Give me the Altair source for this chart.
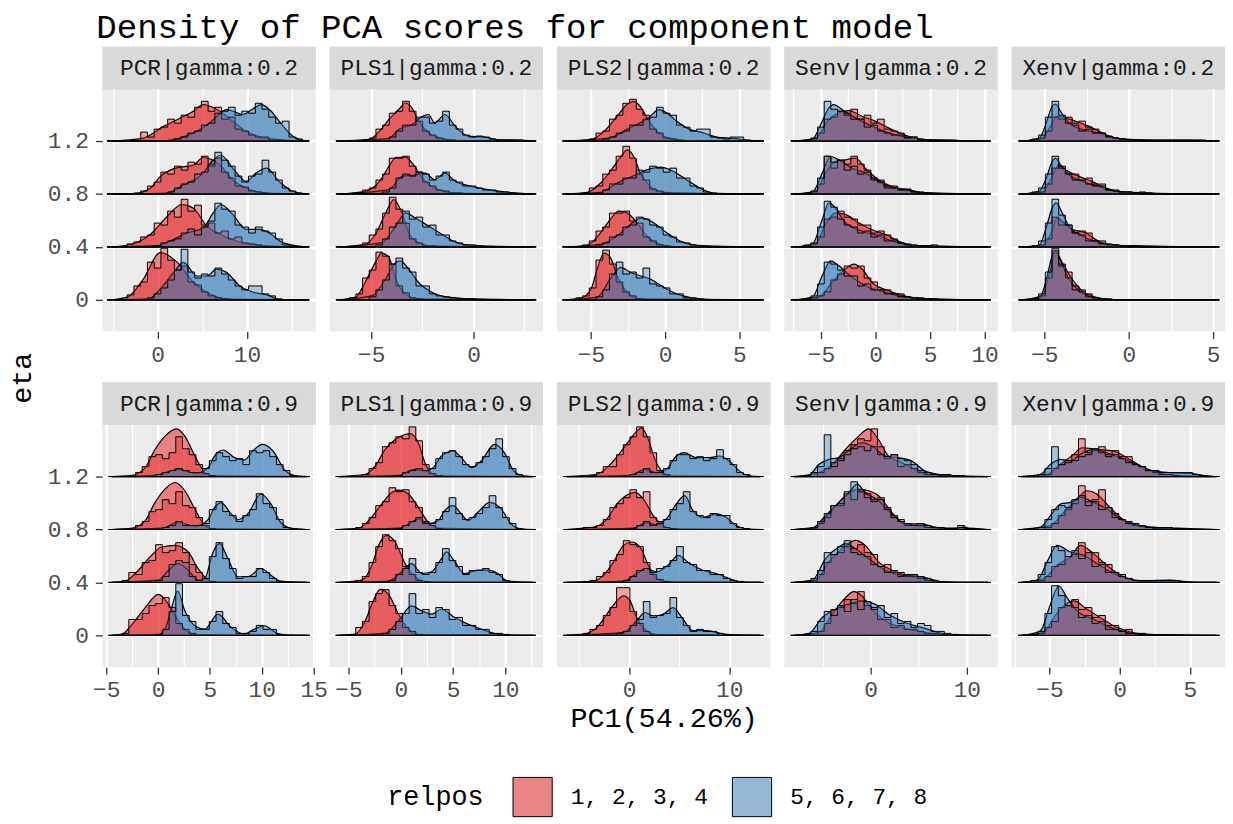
import json
import altair as alt
import pandas as pd

FONT = "Liberation Mono"
RED, BLUE = "#E41A1C", "#377EB8"
RED_KEY, BLUE_KEY = "#EB8687", "#94B8D5"
GROUPS = ["1, 2, 3, 4", "5, 6, 7, 8"]
ETAS = [0, 0.4, 0.8, 1.2]
METHODS = ["PCR", "PLS1", "PLS2", "Senv", "Xenv"]
GAMMAS = ["0.2", "0.9"]
HEIGHT_UNIT = 0.4 / 53.3  # density-height unit expressed in eta units
N_BINS = 30

CURVE_RANGE = {
    ("PCR", "0.2"): (-5.3, 16.6), ("PLS1", "0.2"): (-6.57, 2.9), ("PLS2", "0.2"): (-6.7, 6.43),
    ("Senv", "0.2"): (-7.45, 10.27), ("Xenv", "0.2"): (-6.33, 5.17),
    ("PCR", "0.9"): (-4.44, 14.32), ("PLS1", "0.9"): (-5.9, 12.6), ("PLS2", "0.9"): (-6.24, 13.07),
    ("Senv", "0.9"): (-7.94, 12.16), ("Xenv", "0.9"): (-7.0, 6.87),
}
X_DOMAIN = {
    ("PCR", "0.2"): [-6.2, 17.7], ("PLS1", "0.2"): [-7.04, 3.4], ("PLS2", "0.2"): [-7.3, 7.1],
    ("Senv", "0.2"): [-8.36, 11.2], ("Xenv", "0.2"): [-6.94, 5.7],
    ("PCR", "0.9"): [-5.38, 15.2], ("PLS1", "0.9"): [-6.8, 13.6], ("PLS2", "0.9"): [-7.2, 14.1],
    ("Senv", "0.9"): [-8.97, 13.2], ("Xenv", "0.9"): [-7.7, 7.5],
}
X_MAJOR = {
    ("PCR", "0.2"): [0, 10], ("PLS1", "0.2"): [-5, 0], ("PLS2", "0.2"): [-5, 0, 5],
    ("Senv", "0.2"): [-5, 0, 5, 10], ("Xenv", "0.2"): [-5, 0, 5],
    ("PCR", "0.9"): [-5, 0, 5, 10, 15], ("PLS1", "0.9"): [-5, 0, 5, 10], ("PLS2", "0.9"): [0, 10],
    ("Senv", "0.9"): [0, 10], ("Xenv", "0.9"): [-5, 0, 5],
}
X_MINOR = {
    ("PCR", "0.2"): [-5, 5, 15], ("PLS1", "0.2"): [-2.5, 2.5], ("PLS2", "0.2"): [-2.5, 2.5],
    ("Senv", "0.2"): [-7.5, -2.5, 2.5, 7.5], ("Xenv", "0.2"): [-2.5, 2.5],
    ("PCR", "0.9"): [-2.5, 2.5, 7.5, 12.5], ("PLS1", "0.9"): [-2.5, 2.5, 7.5, 12.5],
    ("PLS2", "0.9"): [-5, 5], ("Senv", "0.9"): [-5, 5], ("Xenv", "0.9"): [-7.5, -2.5, 2.5],
}

# ---- density ridges: per eta (0, 0.4, 0.8, 1.2) a list of [PC1, height] ----
PCR_02_RED = [
    [[-3.4, 2.7], [-1.6, 21], [0.3, 47.7], [2.2, 37.7], [4.0, 17.7], [5.8, 6], [7.7, 1]],
    [[-2.9, 2.7], [-0.8, 12.7], [1.1, 31], [2.7, 42.7], [4.0, 39], [5.5, 21], [7.0, 12.7], [8.8, 6], [11.4, 1.7]],
    [[-2.5, 0.5], [-0.8, 6], [0.3, 17.7], [1.4, 24], [2.5, 27], [4.0, 29], [5.1, 36.7], [7.0, 29], [8.4, 14], [9.9, 6], [12.1, 1]],
    [[-1.6, 3], [0.7, 15], [2.5, 23], [4.0, 30], [5.1, 36.7], [6.6, 32], [8.4, 20], [9.9, 10], [12.1, 3]],
]
PCR_02_BLUE = [
    [[-1.0, 1], [0.3, 11], [1.8, 27.7], [2.9, 37.7], [4.4, 24], [5.5, 24], [6.6, 31], [7.7, 27.7], [9.2, 14], [10.7, 7.7], [12.5, 4.3], [13.6, 0.3]],
    [[0.0, 1.5], [1.4, 6], [3.3, 14], [5.1, 19], [6.2, 34], [7.1, 42.7], [8.4, 32.7], [9.9, 17.7], [11.4, 17.7], [12.5, 14], [14.0, 4.3]],
    [[1.0, 1], [2.9, 9], [5.1, 21], [6.2, 34], [7.1, 39], [8.4, 26], [9.9, 12.7], [11.0, 21], [12.2, 26], [13.6, 12.7], [15.1, 2.7]],
    [[1.0, 0.5], [2.3, 2.7], [4.0, 8], [5.8, 18], [6.9, 27], [7.7, 31.7], [8.5, 30], [9.5, 26.7], [10.6, 32], [11.6, 36.7], [12.6, 31], [13.6, 20], [15.1, 5]],
]
PLS1_02_RED = [
    [[-5.76, 2.7], [-5.3, 17.7], [-4.8, 37.7], [-4.5, 47], [-4.14, 42.7], [-3.8, 21], [-3.33, 6], [-2.7, 1]],
    [[-5.3, 2.7], [-4.8, 12.7], [-4.3, 34], [-3.9, 47.7], [-3.5, 34], [-3.17, 14.3], [-2.7, 4.3], [-2.0, 0.7]],
    [[-5.3, 2.7], [-4.6, 12.7], [-4.14, 27.7], [-3.8, 36.7], [-3.33, 37], [-3.0, 31], [-2.5, 16], [-1.9, 6], [-0.9, 1]],
    [[-5.1, 1.7], [-4.6, 10], [-4.14, 21.7], [-3.66, 31.7], [-3.33, 38.3], [-3.0, 33], [-2.69, 20], [-2.2, 8.3], [-1.55, 2.7], [-0.6, 0.3]],
]
PLS1_02_BLUE = [
    [[-4.95, 4.3], [-4.3, 21], [-3.8, 37.7], [-3.58, 39.3], [-3.17, 31], [-2.7, 17.7], [-2.04, 7.7], [-1.23, 2.7], [-0.1, 1]],
    [[-4.5, 4.3], [-3.8, 21], [-3.33, 34.3], [-2.85, 29], [-2.2, 21], [-1.55, 12.7], [-0.9, 5], [-0.1, 1.7]],
    [[-4.14, 4.3], [-3.5, 17.7], [-2.85, 19.3], [-2.36, 21], [-1.9, 14.3], [-1.4, 21], [-0.9, 12.7], [-0.1, 7.7], [0.7, 4.3], [1.7, 1.7]],
    [[-4.14, 2.7], [-3.66, 11.7], [-3.0, 16.7], [-2.5, 25], [-2.2, 26.7], [-1.9, 18.3], [-1.4, 26.7], [-0.9, 15], [-0.26, 5], [0.55, 4], [1.2, 1.3], [2.2, 1]],
]
PLS2_02_RED = [
    [[-5.7, 1.7], [-5.0, 11], [-4.58, 31], [-4.13, 47], [-3.7, 42.7], [-3.24, 24.3], [-2.57, 7.7], [-1.68, 1]],
    [[-5.25, 1.7], [-4.35, 14.3], [-3.7, 27.7], [-3.13, 36], [-2.57, 34.3], [-1.9, 24.3], [-1.23, 11], [-0.33, 2.7], [0.78, 0.3]],
    [[-5.25, 1.7], [-4.35, 11], [-3.46, 27.7], [-2.9, 39.3], [-2.57, 44.3], [-2.12, 37.7], [-1.68, 21], [-1.0, 7.7], [-0.11, 1.7]],
    [[-5.0, 1.7], [-4.1, 10], [-3.24, 25], [-2.57, 36.7], [-2.12, 40], [-1.68, 35], [-1.23, 23.3], [-0.56, 10], [0.33, 2.7], [1.67, 0.3]],
]
PLS2_02_BLUE = [
    [[-4.58, 2.7], [-3.7, 21], [-3.0, 32.7], [-2.35, 27.7], [-1.68, 24.3], [-1.0, 21], [-0.11, 12.7], [0.78, 6], [1.9, 1.7], [3.0, 0.3]],
    [[-4.35, 2.7], [-3.24, 11], [-2.35, 22.7], [-1.57, 29.3], [-0.78, 24.3], [0.11, 14.3], [1.0, 6], [2.12, 1.7]],
    [[-4.35, 1.7], [-3.24, 11], [-2.12, 18.3], [-1.23, 24.3], [-0.33, 27], [0.56, 22.7], [1.45, 14.3], [2.34, 6], [3.24, 1]],
    [[-3.7, 3.3], [-2.57, 11.7], [-1.68, 18.3], [-1.0, 25], [-0.45, 31.7], [0.11, 28.3], [0.78, 20], [1.67, 11.7], [2.57, 8.3], [3.46, 4], [4.58, 2.7], [5.69, 0.7]],
]
SENV_02_RED = [
    [[-5.18, 2.7], [-3.97, 17.7], [-2.76, 31], [-2.0, 36], [-1.24, 31], [-0.33, 17.7], [1.18, 9.3], [2.7, 3.7], [4.8, 1]],
    [[-5.5, 2.7], [-4.58, 22.7], [-3.67, 34.3], [-2.76, 32.7], [-1.55, 24.3], [-0.03, 16], [0.88, 12.7], [2.1, 6], [3.3, 1.7]],
    [[-5.5, 2.7], [-4.58, 21], [-3.67, 32.7], [-2.76, 34.3], [-1.85, 36], [-0.94, 26], [0.27, 14.3], [1.48, 7.7], [3.3, 3.7], [4.5, 1]],
    [[-5.5, 2.7], [-4.27, 21.7], [-3.36, 28.3], [-2.45, 30.7], [-1.24, 25], [-0.03, 20], [1.18, 13.3], [2.7, 6], [4.2, 1.7], [6.3, 1], [8.1, 0.3]],
]
SENV_02_BLUE = [
    [[-5.79, 2.7], [-4.88, 24.3], [-4.12, 39.3], [-3.36, 34.3], [-2.15, 22.7], [-0.64, 12.7], [0.88, 7.7], [2.7, 2.7], [4.8, 1]],
    [[-5.79, 2.7], [-4.88, 27.7], [-4.27, 44.3], [-3.67, 39.3], [-2.76, 24.3], [-1.24, 16], [0.27, 11], [1.79, 5], [3.3, 1.7], [5.1, 1]],
    [[-5.79, 1.7], [-4.88, 21], [-4.12, 37.7], [-3.36, 34.3], [-2.15, 26], [-0.94, 21], [0.27, 12.7], [1.48, 6], [2.7, 4.3], [3.9, 1.7]],
    [[-5.79, 1.7], [-4.88, 20], [-4.27, 33.3], [-3.82, 36.7], [-3.06, 31.7], [-1.85, 23.3], [-0.33, 15], [1.18, 8.3], [2.7, 4], [3.6, 2.7], [4.8, 0.7]],
]
XENV_02_RED = [
    [[-5.12, 4.3], [-4.63, 31], [-4.33, 47.7], [-3.94, 37.7], [-3.36, 21], [-2.77, 9.3], [-1.98, 2.7], [-1.0, 0.3]],
    [[-5.12, 1], [-4.63, 12.7], [-4.24, 29.3], [-3.85, 24.3], [-3.36, 17.7], [-2.57, 14.3], [-1.79, 6], [-0.8, 1.7]],
    [[-5.12, 1.7], [-4.63, 14.3], [-4.14, 29.3], [-3.75, 24.3], [-2.96, 17.7], [-2.18, 12.7], [-1.59, 7.7], [-0.61, 2.7], [1.35, 1]],
    [[-5.12, 2.7], [-4.63, 15], [-4.24, 25], [-3.75, 23.3], [-3.16, 20], [-2.37, 15], [-1.59, 8.3], [-0.8, 2.7], [1.35, 1], [3.3, 1], [4.3, 0.7]],
]
XENV_02_BLUE = [
    [[-5.3, 1.7], [-4.92, 17.7], [-4.53, 44.3], [-4.33, 49.3], [-4.04, 39.3], [-3.55, 21], [-2.96, 9.3], [-2.18, 2.7], [-1.2, 0.3]],
    [[-5.3, 1.7], [-4.92, 17.7], [-4.53, 39.3], [-4.3, 44.3], [-3.94, 34.3], [-3.55, 21], [-2.77, 11], [-1.79, 4.3], [-0.61, 1.7], [0.37, 1]],
    [[-5.3, 2.7], [-4.92, 14.3], [-4.53, 32.7], [-4.33, 36], [-4.04, 29.3], [-3.55, 19.3], [-2.77, 12.7], [-1.79, 7.7], [-0.8, 2.7], [0.37, 1]],
    [[-5.3, 2.7], [-4.92, 16.7], [-4.53, 35], [-4.33, 37.3], [-4.04, 30], [-3.55, 18.3], [-2.77, 11.7], [-1.79, 8.3], [-0.8, 3.3], [0.37, 0.7]],
]
PCR_09_RED = [
    [[-3.48, 1.3], [-2.5, 11.3], [-1.24, 28], [0.03, 41.3], [1.0, 31.3], [1.95, 14.7], [2.9, 3], [3.9, 0.3]],
    [[-3.16, 1.3], [-2.2, 9], [-0.93, 24], [0.35, 35.7], [1.63, 37.3], [2.9, 30.7], [3.86, 14], [4.82, 2.3], [5.45, 0.3]],
    [[-2.5, 1.3], [-1.24, 9], [-0.29, 27.3], [0.67, 40.7], [1.63, 47.3], [2.58, 39], [3.54, 20.7], [4.5, 4], [5.13, 0.7]],
    [[-2.5, 1.3], [-1.24, 9], [-0.29, 27.3], [0.67, 40.7], [1.79, 48], [2.58, 40.7], [3.54, 20.7], [4.5, 4], [5.13, 0.7]],
]
PCR_09_BLUE = [
    [[0.0, 0.5], [0.67, 6.3], [1.31, 28], [1.88, 44.7], [2.58, 24.7], [3.54, 9.7], [4.5, 6.3], [5.77, 21.3], [7.05, 8], [8.32, 1.3], [9.28, 6.3], [10.24, 9.7], [11.5, 2], [12.5, 0.3]],
    [[0.03, 2.3], [1.0, 12.3], [1.95, 19], [2.9, 12.3], [3.86, 2.3], [4.5, 4], [5.3, 30.7], [5.93, 39], [6.73, 24], [7.69, 5.7], [8.65, 5.7], [9.92, 14], [10.88, 7.3], [11.8, 1.3]],
    [[0.35, 1.3], [1.95, 7.3], [3.54, 3.3], [4.82, 10], [5.45, 22.3], [6.09, 26.7], [7.05, 15.7], [7.69, 10], [8.65, 15.7], [9.92, 35.7], [10.88, 25.7], [11.8, 7.3], [12.8, 1.3]],
    [[-0.29, 1.3], [1.95, 7.3], [3.54, 3.3], [4.82, 9], [5.45, 20.7], [6.25, 26.7], [7.37, 19], [8.32, 16.7], [9.12, 25.7], [10.08, 32.3], [11.2, 24], [12.15, 7.3], [13.1, 1.3]],
]
PLS1_09_RED = [
    [[-4.34, 1.3], [-3.39, 14.7], [-2.76, 31.3], [-1.97, 46.3], [-1.17, 41.3], [-0.22, 21.3], [0.73, 6.3], [1.68, 0.7]],
    [[-3.7, 2.3], [-2.76, 17.3], [-2.12, 37.3], [-1.33, 47.3], [-0.54, 40.7], [0.41, 19], [1.36, 5.7], [2.31, 0.7]],
    [[-4.0, 1.3], [-3.07, 9], [-1.81, 25.7], [-0.86, 37.3], [-0.22, 39.7], [0.73, 35.7], [1.68, 22.3], [2.62, 7.3], [3.58, 1.3]],
    [[-3.39, 2.3], [-2.44, 10.7], [-1.49, 27.3], [-0.54, 37.3], [0.41, 42.3], [0.88, 43.3], [1.68, 34], [2.31, 14], [2.94, 3.3], [3.58, 0.7]],
]
PLS1_09_BLUE = [
    [[-1.49, 2], [-0.22, 14.7], [1.04, 29.7], [2.0, 24.7], [2.94, 21.3], [3.89, 26.3], [5.16, 18], [6.42, 11.3], [7.69, 6.3], [9.27, 1.3], [10.5, 0.3]],
    [[-1.17, 1.3], [0.09, 10.7], [1.04, 19], [2.0, 9], [2.94, 10.7], [3.89, 24], [4.37, 30.7], [5.16, 20.7], [6.1, 9], [7.37, 12.3], [8.33, 12.3], [9.27, 9], [10.2, 1.3]],
    [[-0.22, 1.3], [1.04, 7.3], [1.68, 10.7], [2.62, 5.7], [3.58, 9], [4.2, 19], [5.0, 24], [5.79, 15.7], [6.42, 9], [7.37, 17.3], [8.48, 27.3], [9.59, 20.7], [10.54, 5.7], [11.49, 0.7]],
    [[-0.2, 1.3], [1.36, 7.3], [2.31, 5.7], [3.1, 9], [3.89, 20.7], [5.0, 25.7], [5.79, 19], [6.74, 9], [7.69, 15.7], [8.96, 32.3], [9.9, 24], [10.7, 7.3], [11.49, 1.3]],
]
PLS2_09_RED = [
    [[-4.52, 1.3], [-3.2, 8], [-2.21, 21.3], [-1.22, 34.7], [-0.56, 39.7], [0.1, 34.7], [0.76, 18], [1.75, 4.7], [2.74, 0.7]],
    [[-3.53, 1.3], [-2.54, 7.3], [-1.55, 20.7], [-0.56, 37.3], [0.27, 40.7], [1.09, 35.7], [1.92, 17.3], [2.74, 4], [3.73, 0.7]],
    [[-4.52, 1.3], [-3.2, 3.3], [-2.21, 10.7], [-1.22, 25.7], [-0.23, 34.7], [0.6, 37.3], [1.42, 30.7], [2.41, 14], [3.4, 4], [4.39, 0.7]],
    [[-3.2, 2.3], [-1.88, 12.3], [-0.89, 24], [0.1, 37.3], [0.76, 45.7], [1.26, 49], [1.92, 37.3], [2.58, 17.3], [3.24, 5.7], [4.06, 0.7]],
]
PLS2_09_BLUE = [
    [[-0.56, 3], [0.76, 14.7], [1.59, 23], [2.41, 19.7], [3.4, 21.3], [4.39, 28], [5.38, 16.3], [6.37, 4.7], [7.69, 4.7], [8.68, 3], [10.0, 0.7]],
    [[-0.56, 1.3], [0.76, 9], [1.75, 14], [2.74, 10.7], [4.06, 19], [4.88, 27.3], [6.04, 19], [7.36, 12.3], [8.68, 9], [10.0, 4], [11.0, 0.7]],
    [[0.43, 1.3], [1.75, 6.7], [2.74, 4.7], [3.73, 10.7], [4.72, 25.7], [5.55, 34], [6.37, 19], [7.36, 12.3], [8.68, 15.7], [9.67, 12.3], [10.66, 4], [11.65, 0.7]],
    [[0.1, 1.3], [1.59, 7.3], [2.74, 4], [3.73, 7.3], [4.72, 20.7], [5.55, 24], [6.7, 19], [8.02, 19], [9.01, 20.7], [10.0, 15.7], [11.0, 5.7], [11.98, 0.7]],
]
SENV_09_RED = [
    [[-5.36, 3], [-3.99, 21.3], [-2.61, 38], [-1.76, 44], [-0.89, 39.7], [0.13, 26.3], [1.51, 14.7], [3.23, 8], [4.95, 4], [7.0, 1.3]],
    [[-5.7, 2.3], [-4.33, 20.7], [-2.96, 34], [-1.58, 42.3], [-0.55, 37.3], [0.82, 20.7], [2.2, 12.3], [3.57, 7.3], [5.29, 4], [7.0, 0.7]],
    [[-5.7, 2.3], [-4.33, 15.7], [-2.96, 30.7], [-1.24, 40.7], [-0.2, 39], [0.82, 34], [2.2, 17.3], [3.57, 5.7], [5.29, 3.3], [7.0, 1.3], [9.75, 1.3]],
    [[-5.36, 4], [-3.99, 12.3], [-2.61, 27.3], [-1.24, 40.7], [-0.2, 48], [0.82, 37.3], [1.85, 20.7], [3.23, 14], [4.6, 7.3], [5.98, 2.3], [7.7, 1.3], [9.07, 0.7]],
]
SENV_09_BLUE = [
    [[-6.4, 2], [-5.02, 18], [-3.64, 26.3], [-2.27, 31.3], [-0.89, 34.7], [0.48, 31.3], [1.85, 21.3], [3.57, 13], [5.29, 8], [7.0, 3], [8.72, 0.3]],
    [[-6.05, 2.3], [-4.68, 24], [-3.3, 35.7], [-2.61, 39], [-1.58, 34], [-0.2, 24], [1.51, 12.3], [3.23, 7.3], [4.6, 6.7], [5.98, 4], [7.35, 0.7]],
    [[-6.05, 1.3], [-4.68, 14], [-3.3, 27.3], [-2.1, 39], [-1.41, 45.7], [-0.55, 37.3], [0.82, 29], [2.2, 15.7], [3.57, 5.7], [5.29, 5.7], [6.66, 2.3], [8.38, 0.7], [9.75, 2.3], [10.5, 0.3]],
    [[-6.4, 1.3], [-5.36, 12.3], [-4.33, 17.3], [-3.3, 19], [-1.93, 29], [-0.89, 34], [0.13, 30.7], [1.51, 20.7], [2.88, 19], [4.26, 15.7], [5.63, 5.7], [7.0, 2.3], [8.38, 1.3], [9.8, 0.3]],
]
XENV_09_RED = [
    [[-5.4, 3], [-4.7, 18], [-3.98, 29.7], [-3.28, 34.7], [-2.33, 26.3], [-1.39, 18], [-0.45, 9.7], [0.5, 4.7], [1.68, 1.3]],
    [[-5.4, 4], [-4.46, 17.3], [-3.51, 25.7], [-2.81, 37.3], [-1.86, 29], [-0.92, 17.3], [0.26, 5.7], [1.68, 1.3]],
    [[-4.93, 4], [-3.98, 17.3], [-3.04, 30.7], [-2.33, 39], [-1.63, 35.7], [-0.92, 25.7], [0.03, 12.3], [1.2, 4], [2.62, 1.3]],
    [[-5.17, 2.3], [-4.22, 12.3], [-3.28, 22.3], [-2.69, 29], [-1.63, 27.3], [-0.45, 25.7], [0.5, 19], [1.68, 9], [2.62, 4], [4.04, 1.3]],
]
XENV_09_BLUE = [
    [[-5.64, 4.7], [-4.93, 31.3], [-4.34, 49.7], [-3.75, 38], [-3.04, 24.7], [-1.86, 16.3], [-0.68, 8], [0.5, 3], [1.68, 0.7]],
    [[-5.87, 2.3], [-5.17, 20.7], [-4.46, 37.3], [-3.51, 30.7], [-2.57, 27.3], [-1.63, 19], [-0.68, 10.7], [0.5, 4], [1.68, 1.7], [3.56, 2.3], [4.74, 0.7]],
    [[-5.64, 2.3], [-4.93, 14], [-4.22, 25.7], [-3.51, 27.3], [-2.81, 32.3], [-1.86, 27.3], [-0.92, 20.7], [0.03, 10.7], [1.2, 4.7], [2.38, 2.3], [4.04, 1.3]],
    [[-5.64, 2.3], [-4.93, 12.3], [-4.22, 17.3], [-3.51, 15.7], [-2.81, 22.3], [-1.86, 27.3], [-0.92, 24], [0.03, 19], [1.2, 12.3], [2.38, 5.7], [3.56, 4], [4.98, 3.3], [5.92, 1.3]],
]

# ---- histograms (30 bins per panel): per eta [first non-empty bin, bar heights] ----
PCR_02_RED_H = [
    [3, [5, 14, 18, 38, 32, 52, 40, 30, 34, 18, 15, 8, 4, 2, 1]],
    [3, [3, 5, 10, 12, 24, 22, 36, 30, 48, 36, 42, 22, 24, 14, 16, 8, 10, 4, 3, 2]],
    [4, [1, 3, 8, 12, 22, 20, 28, 24, 32, 30, 38, 28, 36, 22, 16, 8, 7, 3, 2, 1]],
    [5, [9, 4, 12, 14, 22, 18, 26, 24, 34, 40, 30, 34, 22, 24, 12, 10, 6, 4, 4, 1, 1]],
]
PCR_02_BLUE_H = [
    [6, [2, 6, 12, 20, 30, 51, 28, 22, 26, 24, 32, 26, 20, 14, 10, 14, 14, 6, 4, 1]],
    [7, [1, 4, 6, 8, 14, 18, 12, 20, 26, 44, 38, 36, 22, 20, 14, 20, 16, 14, 8, 2, 1]],
    [9, [2, 6, 10, 12, 20, 22, 30, 42, 34, 28, 18, 12, 18, 20, 34, 22, 14, 6, 3, 1]],
    [10, [2, 4, 8, 10, 16, 18, 28, 30, 34, 26, 30, 28, 38, 32, 24, 18, 20, 4, 2]],
]
PLS1_02_RED_H = [
    [2, [2, 6, 22, 30, 48, 44, 36, 14, 7, 2, 1]],
    [3, [1, 4, 12, 18, 34, 50, 38, 24, 8, 4, 1, 1]],
    [3, [1, 4, 6, 14, 20, 36, 36, 38, 28, 22, 12, 8, 4, 3, 1, 1]],
    [4, [1, 3, 12, 16, 28, 30, 40, 30, 20, 10, 6, 3, 1, 1]],
]
PLS1_02_BLUE_H = [
    [5, [3, 10, 20, 36, 42, 32, 28, 14, 14, 6, 4, 3, 2, 1, 1, 1]],
    [6, [2, 8, 20, 24, 36, 28, 30, 20, 22, 12, 12, 6, 4, 2, 2, 1]],
    [7, [2, 6, 16, 20, 18, 22, 20, 14, 18, 22, 14, 12, 8, 8, 6, 4, 4, 2, 2, 1]],
    [8, [4, 10, 16, 16, 24, 24, 18, 20, 30, 16, 12, 6, 4, 5, 4, 2, 1, 1, 1, 1]],
]
PLS2_02_RED_H = [
    [2, [2, 4, 12, 40, 50, 36, 18, 8, 4, 1]],
    [3, [2, 6, 16, 20, 34, 34, 36, 26, 24, 10, 6, 2, 1]],
    [3, [1, 6, 8, 20, 24, 38, 48, 36, 20, 14, 5, 3, 1]],
    [4, [2, 8, 10, 22, 26, 38, 42, 32, 26, 12, 8, 3, 2, 1]],
]
PLS2_02_BLUE_H = [
    [5, [3, 10, 26, 38, 26, 28, 22, 32, 16, 14, 12, 6, 6, 2, 2, 1]],
    [5, [2, 4, 10, 12, 20, 22, 30, 28, 22, 20, 12, 10, 5, 4, 2, 1]],
    [5, [1, 4, 10, 10, 16, 16, 24, 22, 28, 26, 22, 26, 16, 16, 8, 6, 2, 1]],
    [6, [2, 4, 8, 10, 16, 16, 22, 24, 34, 28, 26, 16, 14, 10, 12, 12, 4, 3, 2, 4, 4, 1]],
]
SENV_02_RED_H = [
    [3, [2, 4, 8, 20, 26, 34, 32, 34, 22, 18, 10, 10, 6, 6, 3, 2, 2, 1, 1]],
    [2, [2, 3, 10, 28, 30, 36, 30, 28, 22, 22, 14, 16, 12, 8, 4, 3, 1, 1]],
    [3, [2, 10, 38, 26, 34, 30, 38, 30, 24, 16, 14, 8, 8, 4, 5, 2, 2, 1]],
    [3, [2, 8, 22, 24, 30, 28, 32, 22, 26, 18, 22, 12, 10, 8, 4, 4, 2, 1, 1, 1, 1, 1]],
]
SENV_02_BLUE_H = [
    [3, [4, 16, 38, 36, 30, 24, 24, 14, 16, 10, 10, 6, 6, 3, 3, 2, 1, 1]],
    [3, [4, 20, 46, 40, 28, 22, 20, 14, 16, 10, 12, 6, 6, 4, 2, 2, 1, 1, 2]],
    [3, [3, 16, 38, 32, 34, 24, 28, 20, 22, 14, 12, 6, 6, 4, 4, 2, 1]],
    [3, [3, 14, 40, 32, 30, 26, 22, 22, 14, 16, 10, 8, 6, 6, 3, 4, 1, 1]],
]
XENV_02_RED_H = [
    [2, [1, 4, 22, 50, 36, 28, 14, 10, 6, 2, 1, 1]],
    [2, [1, 2, 8, 30, 22, 22, 14, 16, 14, 6, 6, 2, 2, 1]],
    [3, [2, 10, 26, 28, 20, 20, 14, 16, 10, 10, 4, 4, 2, 2, 1, 2, 1]],
    [2, [1, 3, 10, 24, 22, 24, 18, 20, 14, 12, 8, 5, 3, 2, 1, 1, 1, 1, 1, 1, 1, 1, 1, 1, 1, 1]],
]
XENV_02_BLUE_H = [
    [2, [1, 6, 28, 52, 34, 22, 10, 8, 3, 2, 1]],
    [2, [1, 6, 24, 48, 32, 22, 14, 12, 6, 6, 3, 3, 2, 1, 1, 1]],
    [2, [2, 6, 20, 38, 26, 20, 14, 14, 10, 8, 8, 4, 3, 2, 2, 1]],
    [2, [2, 6, 24, 40, 26, 18, 16, 10, 12, 8, 8, 4, 3, 2, 1, 1]],
]
PCR_09_RED_H = [
    [2, [2, 16, 16, 22, 30, 32, 38, 28, 12, 6, 2]],
    [2, [2, 10, 8, 20, 22, 38, 30, 32, 40, 30, 18, 10, 4, 1]],
    [4, [4, 8, 18, 20, 30, 26, 38, 24, 22, 12, 4, 1]],
    [4, [4, 10, 20, 22, 18, 24, 40, 28, 22, 12, 3, 1]],
]
PCR_09_BLUE_H = [
    [7, [1, 6, 24, 52, 20, 14, 6, 6, 14, 24, 12, 8, 2, 2, 4, 10, 6, 6, 1]],
    [7, [2, 6, 18, 22, 20, 6, 2, 4, 26, 40, 24, 14, 4, 6, 6, 14, 10, 4, 1]],
    [8, [2, 4, 8, 4, 4, 4, 6, 20, 28, 18, 14, 8, 14, 20, 36, 26, 22, 10, 2, 1]],
    [7, [2, 4, 6, 8, 6, 4, 4, 8, 16, 24, 20, 16, 18, 12, 26, 24, 26, 20, 12, 6, 1]],
]
PLS1_09_RED_H = [
    [2, [1, 8, 14, 34, 42, 46, 30, 22, 8, 4, 1]],
    [3, [2, 6, 20, 36, 48, 42, 34, 16, 8, 2, 1]],
    [3, [2, 6, 12, 24, 28, 42, 38, 40, 28, 22, 8, 4, 1]],
    [4, [2, 8, 14, 30, 34, 40, 38, 50, 36, 12, 3, 1]],
]
PLS1_09_BLUE_H = [
    [7, [2, 6, 14, 22, 42, 22, 26, 18, 28, 26, 16, 18, 10, 10, 6, 6, 2, 2, 1]],
    [8, [2, 8, 14, 24, 10, 8, 10, 20, 34, 22, 16, 8, 12, 12, 14, 10, 8, 2, 1]],
    [9, [1, 4, 8, 12, 6, 6, 10, 18, 32, 16, 10, 12, 16, 22, 34, 22, 12, 6, 1]],
    [9, [1, 4, 6, 8, 6, 8, 18, 24, 26, 20, 12, 10, 14, 20, 28, 38, 20, 8, 2]],
]
PLS2_09_RED_H = [
    [2, [1, 2, 6, 10, 20, 28, 48, 48, 24, 12, 4, 1]],
    [3, [1, 2, 6, 10, 22, 28, 42, 38, 36, 20, 8, 3, 1]],
    [2, [1, 2, 2, 4, 10, 22, 26, 32, 40, 32, 38, 12, 8, 2, 1]],
    [4, [1, 4, 10, 10, 22, 32, 40, 50, 40, 24, 6, 2]],
]
PLS2_09_BLUE_H = [
    [8, [2, 4, 10, 16, 34, 18, 20, 22, 38, 18, 10, 4, 6, 4, 4, 2, 1]],
    [9, [2, 6, 12, 14, 10, 14, 16, 22, 36, 20, 18, 12, 12, 8, 8, 4, 2, 1]],
    [10, [1, 4, 8, 4, 6, 10, 20, 26, 38, 18, 14, 12, 16, 14, 14, 6, 2, 1]],
    [10, [2, 4, 8, 4, 4, 8, 16, 22, 22, 18, 20, 16, 18, 27, 18, 12, 4, 2]],
]
SENV_09_RED_H = [
    [4, [4, 12, 26, 28, 36, 32, 44, 30, 28, 16, 16, 8, 10, 6, 6, 4, 2, 2, 1]],
    [3, [1, 8, 20, 28, 30, 36, 34, 38, 30, 28, 16, 18, 10, 10, 6, 6, 4, 2, 2]],
    [3, [1, 6, 12, 24, 24, 36, 30, 40, 36, 30, 32, 22, 14, 10, 4, 4, 4, 2, 2, 1, 1, 1, 4, 1]],
    [4, [4, 8, 14, 18, 26, 32, 38, 36, 48, 30, 18, 22, 10, 12, 8, 4, 2, 2, 1, 1, 1]],
]
SENV_09_BLUE_H = [
    [2, [1, 4, 14, 24, 20, 30, 24, 36, 26, 34, 26, 30, 18, 22, 12, 14, 8, 12, 10, 4, 4, 2, 1]],
    [2, [1, 4, 12, 30, 28, 36, 42, 30, 28, 26, 18, 16, 10, 12, 6, 8, 8, 6, 4, 2, 1]],
    [3, [2, 8, 16, 24, 26, 38, 48, 38, 32, 28, 30, 20, 12, 8, 6, 4, 6, 4, 2, 2, 1, 1, 2, 1]],
    [2, [1, 4, 10, 42, 10, 16, 22, 28, 30, 26, 30, 22, 20, 22, 18, 16, 12, 6, 4, 2, 2, 2, 1, 1]],
]
XENV_09_RED_H = [
    [3, [2, 8, 14, 28, 30, 36, 26, 28, 18, 20, 10, 10, 4, 6, 2, 2]],
    [3, [2, 6, 16, 18, 26, 28, 40, 30, 30, 20, 18, 10, 8, 4, 2, 1]],
    [4, [2, 6, 14, 20, 26, 44, 28, 30, 40, 22, 16, 10, 8, 4, 3, 2, 1, 1]],
    [4, [2, 8, 12, 16, 22, 38, 24, 26, 30, 22, 26, 20, 20, 12, 10, 6, 4, 2, 2, 1]],
]
XENV_09_BLUE_H = [
    [2, [1, 4, 22, 50, 40, 30, 28, 18, 20, 12, 14, 6, 6, 4, 2, 2, 1]],
    [2, [2, 8, 20, 36, 32, 26, 32, 24, 30, 16, 18, 10, 10, 6, 4, 2, 2, 2, 2, 2, 2, 2, 1]],
    [3, [2, 10, 20, 24, 22, 30, 34, 24, 28, 20, 22, 12, 10, 6, 6, 4, 2, 2, 2, 2, 1, 1]],
    [3, [2, 8, 30, 12, 14, 16, 20, 22, 28, 24, 20, 22, 18, 14, 12, 10, 6, 6, 4, 4, 4, 4, 4, 2, 1]],
]

CURVES = {
    ("PCR", "0.2"): (PCR_02_RED, PCR_02_BLUE), ("PLS1", "0.2"): (PLS1_02_RED, PLS1_02_BLUE),
    ("PLS2", "0.2"): (PLS2_02_RED, PLS2_02_BLUE), ("Senv", "0.2"): (SENV_02_RED, SENV_02_BLUE),
    ("Xenv", "0.2"): (XENV_02_RED, XENV_02_BLUE),
    ("PCR", "0.9"): (PCR_09_RED, PCR_09_BLUE), ("PLS1", "0.9"): (PLS1_09_RED, PLS1_09_BLUE),
    ("PLS2", "0.9"): (PLS2_09_RED, PLS2_09_BLUE), ("Senv", "0.9"): (SENV_09_RED, SENV_09_BLUE),
    ("Xenv", "0.9"): (XENV_09_RED, XENV_09_BLUE),
}
HISTS = {
    ("PCR", "0.2"): (PCR_02_RED_H, PCR_02_BLUE_H), ("PLS1", "0.2"): (PLS1_02_RED_H, PLS1_02_BLUE_H),
    ("PLS2", "0.2"): (PLS2_02_RED_H, PLS2_02_BLUE_H), ("Senv", "0.2"): (SENV_02_RED_H, SENV_02_BLUE_H),
    ("Xenv", "0.2"): (XENV_02_RED_H, XENV_02_BLUE_H),
    ("PCR", "0.9"): (PCR_09_RED_H, PCR_09_BLUE_H), ("PLS1", "0.9"): (PLS1_09_RED_H, PLS1_09_BLUE_H),
    ("PLS2", "0.9"): (PLS2_09_RED_H, PLS2_09_BLUE_H), ("Senv", "0.9"): (SENV_09_RED_H, SENV_09_BLUE_H),
    ("Xenv", "0.9"): (XENV_09_RED_H, XENV_09_BLUE_H),
}

W, PH, SH = 215, 244, 43
PX_PER_UNIT = PH / 1.83
Y_DOMAIN = [-0.24, 1.59 + SH / PX_PER_UNIT]   # upper part hosts the strip label
TXT = 23
BIG = 28.6


def make_panel(method, gamma, col, row):
    key = (method, gamma)
    red, blue = CURVES[key]
    red_h, blue_h = HISTS[key]
    lo, hi = CURVE_RANGE[key]
    bw = (hi - lo) / (N_BINS - 1)
    recs = []
    cid = 0
    for ei in (3, 2, 1, 0):
        eta = ETAS[ei]
        for grp, curves in ((GROUPS[0], red), (GROUPS[1], blue)):
            pts = [[lo, 0.0]] + curves[ei] + [[hi, 0.0]]
            for x, h in pts:
                recs.append({"kind": "d", "x": x, "top": eta + h * HEIGHT_UNIT,
                             "base": eta, "grp": grp, "cid": cid})
            cid += 1
    for ei in (3, 2, 1, 0):
        eta = ETAS[ei]
        for grp, hists in ((GROUPS[0], red_h), (GROUPS[1], blue_h)):
            start, vals = hists[ei]
            bars = [0.0] * N_BINS
            for i, v in enumerate(vals):
                if start + i < N_BINS:
                    bars[start + i] = v
            for k in range(N_BINS + 1):
                h = bars[k] if k < N_BINS else 0.0
                recs.append({"kind": "h", "x": lo - bw / 2 + k * bw,
                             "top": eta + h * HEIGHT_UNIT, "base": eta, "grp": grp, "cid": cid})
            cid += 1
    df = pd.DataFrame(recs)

    major = X_MAJOR[key]
    ticks = sorted(major + X_MINOR[key])
    test = "indexof(%s, datum.value) >= 0" % json.dumps(major)
    xaxis_kw = dict(
        values=ticks,
        labelExpr="%s ? format(datum.value, 'd') : ''" % test,
        labelOverlap=False, labelFlush=False,
        grid=True, gridColor="white",
        gridWidth={"condition": {"test": test, "value": 2.2}, "value": 1.1},
        tickOpacity={"condition": {"test": test, "value": 1}, "value": 0},
        tickSize=7, tickWidth=1.3, tickColor="#333333", domain=False,
        labelFont=FONT, labelFontSize=TXT, labelColor="#4D4D4D", labelPadding=5,
    )
    if row == 1 and col == 2:
        xaxis_kw.update(title="PC1(54.26%)", titleFont=FONT, titleFontSize=BIG,
                        titleFontWeight="normal", titleColor="black", titlePadding=2)
    else:
        xaxis_kw.update(title=None)
    if col == 0:
        yaxis = alt.Axis(values=ETAS, labelExpr="'' + datum.value", title=None,
                         grid=True, gridColor="white", gridWidth=2.2,
                         tickSize=7, tickWidth=1.3, tickColor="#333333", domain=False,
                         labelFont=FONT, labelFontSize=TXT, labelColor="#4D4D4D",
                         labelPadding=7)
    else:
        yaxis = alt.Axis(values=ETAS, labels=False, ticks=False, domain=False, title=None,
                         grid=True, gridColor="white", gridWidth=2.2)

    base = alt.Chart(df).encode(
        x=alt.X("x:Q", scale=alt.Scale(domain=X_DOMAIN[key], nice=False, zero=False),
                axis=alt.Axis(**xaxis_kw)),
        y=alt.Y("top:Q", scale=alt.Scale(domain=Y_DOMAIN, nice=False, zero=False),
                axis=yaxis, stack=None),
        y2="base:Q",
        fill=alt.Fill("grp:N", scale=alt.Scale(domain=GROUPS, range=[RED, BLUE]), legend=None),
        detail="cid:N",
    )
    dens = base.transform_filter(alt.datum.kind == "d").mark_area(
        interpolate="monotone", fillOpacity=0.5, stroke="black", strokeWidth=1.2,
        strokeJoin="round")
    hist = base.transform_filter(alt.datum.kind == "h").mark_area(
        interpolate="step-after", fillOpacity=0.35, stroke="black", strokeWidth=1.0)

    label_df = pd.DataFrame({"t": ["%s|gamma:%s" % (method, gamma)]})
    strip_bg = alt.Chart(label_df).mark_rect(fill="#D9D9D9").encode(
        x=alt.value(0), x2=alt.value(W), y=alt.value(0), y2=alt.value(SH))
    strip_txt = alt.Chart(label_df).mark_text(
        font=FONT, fontSize=TXT, color="#1A1A1A", baseline="middle", align="center"
    ).encode(text="t:N", x=alt.value(W / 2), y=alt.value(SH / 2))

    return alt.layer(dens, hist, strip_bg, strip_txt).properties(
        width=W, height=PH + SH, view=alt.ViewBackground(fill="#EBEBEB", stroke=None))


rows = []
for r, gamma in enumerate(GAMMAS):
    rows.append(alt.hconcat(*[make_panel(m, gamma, c, r) for c, m in enumerate(METHODS)],
                            spacing=14, bounds="flush"))
grid = alt.vconcat(*rows, spacing=16)

eta_text = alt.Chart(pd.DataFrame({"t": ["eta"]})).mark_text(
    font=FONT, fontSize=BIG, angle=270, color="black").encode(text="t:N")
legend_layer = alt.Chart(pd.DataFrame({"grp": GROUPS})).mark_square(opacity=0, size=4).encode(
    x=alt.value(0), y=alt.value(0),
    color=alt.Color("grp:N", scale=alt.Scale(domain=GROUPS, range=[RED_KEY, BLUE_KEY]),
                    legend=alt.Legend(
                        title="relpos", orient="none", legendX=380, legendY=735,
                        direction="horizontal", titleOrient="left",
                        titleFont=FONT, titleFontSize=27, titleFontWeight="normal",
                        titleColor="black", titlePadding=28,
                        symbolType="square", symbolSize=1560, symbolOpacity=1,
                        symbolStrokeColor="black", symbolStrokeWidth=1,
                        labelFont=FONT, labelFontSize=TXT, labelColor="black",
                        labelOffset=18, columnPadding=21)),
)
eta_chart = alt.layer(eta_text, legend_layer).properties(
    width=24, height=668, view=alt.ViewBackground(fill=None, stroke=None))

chart = alt.hconcat(eta_chart, grid, spacing=10).properties(
    padding=0,
    title=alt.TitleParams("Density of PCA scores for component model", anchor="start",
                          font=FONT, fontSize=34.3, fontWeight="normal", color="black",
                          dx=89, offset=0),
).configure_view(stroke=None)

chart.save("out.html", embed_options={"renderer": "svg", "actions": False})
